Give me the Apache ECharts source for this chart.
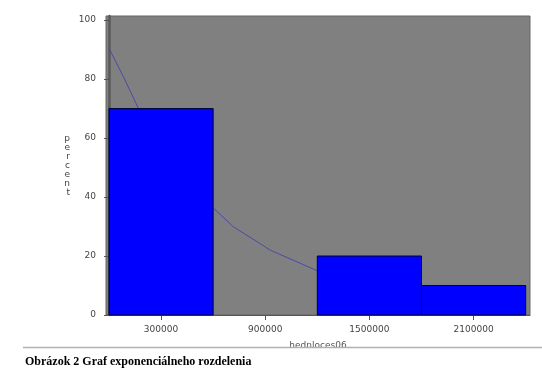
<!DOCTYPE html>
<html><head><meta charset="utf-8">
<script src="https://cdn.jsdelivr.net/npm/echarts@6/dist/echarts.min.js"></script>
<style>html,body{margin:0;padding:0;background:#fff}#c{width:542px;height:375px}</style>
</head><body><div id="c"></div>
<script>
// Histogram bins (lower edge, upper edge) and percents
const binStarts = [0, 600000, 1200000, 1800000];
const binEnds = [600000, 1200000, 1800000, 2400000];
const percents = [70, 0, 20, 10];
const xTicks = [300000, 900000, 1500000, 2100000];
const yTicks = [0, 20, 40, 60, 80, 100];
// Fitted exponential density curve
const curveX = [0, 90000, 170000, 300000, 450000, 606000, 715000, 929000, 1200000, 1500000, 1800000, 2100000, 2400000];
const curveY = [90.5, 80, 70, 58, 46, 36, 30, 22, 15, 10.5, 7, 4.7, 3.1];
const xName = 'hednloces06';
const yName = 'Percent';
const caption = 'Obrázok 2 Graf exponenciálneho rozdelenia';

const chart = echarts.init(document.getElementById('c'), null, {renderer: 'canvas'});
const labelFont = {color: '#444', fontSize: 9, fontFamily: 'DejaVu Sans'};
chart.setOption({
  animation: false,
  grid: {left: 106, right: 12, top: 16, bottom: 60, show: true, backgroundColor: '#808080', borderColor: '#666', borderWidth: 1},
  xAxis: {
    type: 'value', min: -17000, max: 2425000,
    name: xName, nameLocation: 'middle', nameGap: 26,
    nameTextStyle: {color: '#555', fontSize: 9, fontFamily: 'DejaVu Sans'},
    axisLine: {show: true, lineStyle: {color: '#555', width: 1}},
    axisTick: {show: true, length: 5, lineStyle: {color: '#555'}, customValues: xTicks},
    axisLabel: Object.assign({customValues: xTicks, margin: 10, formatter: v => String(v)}, labelFont),
    splitLine: {show: false}
  },
  yAxis: {
    type: 'value', min: 0, max: 101.4,
    name: yName.split('').map(c => c.toLowerCase()).join('\n'), nameLocation: 'middle', nameGap: 36, nameRotate: 0,
    nameTextStyle: {color: '#444', fontSize: 9, lineHeight: 9, fontFamily: 'DejaVu Sans'},
    axisLine: {show: true, lineStyle: {color: '#5a5a5a', width: 2.5}},
    axisTick: {show: true, length: 5, lineStyle: {color: '#555'}, customValues: yTicks},
    axisLabel: Object.assign({customValues: yTicks, margin: 10}, labelFont),
    splitLine: {show: false}
  },
  series: [
    {
      type: 'line', z: 1, symbol: 'none', smooth: false,
      lineStyle: {color: '#4a4aa8', width: 1},
      data: curveX.map((x, i) => [x, curveY[i]])
    },
    {
      type: 'custom', z: 2,
      data: binStarts.map((s, i) => [s, binEnds[i], percents[i]]),
      renderItem: function (params, api) {
        const p0 = api.coord([api.value(0), api.value(2)]);
        const p1 = api.coord([api.value(1), 0]);
        if (api.value(2) <= 0) return null;
        return {
          type: 'rect',
          shape: {x: p0[0], y: p0[1], width: p1[0] - p0[0], height: p1[1] - p0[1]},
          style: {fill: '#0000ff', stroke: '#000033', lineWidth: 1}
        };
      }
    }
  ],
  graphic: [
    {type: 'line', shape: {x1: 23, y1: 347.5, x2: 542, y2: 347.5}, style: {stroke: '#b0b0b0', lineWidth: 1.5}, z: 10},
    {type: 'text', left: 25, top: 356, style: {text: caption, fill: '#000', font: 'bold 12px "Liberation Serif", serif'}, z: 10}
  ]
});
</script></body></html>
